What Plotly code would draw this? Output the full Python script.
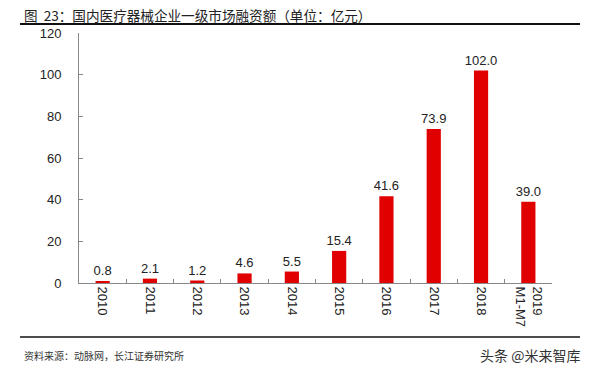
import plotly.graph_objects as go

categories = ["2010", "2011", "2012", "2013", "2014", "2015", "2016", "2017", "2018", "2019<br>M1-M7"]
values = [0.8, 2.1, 1.2, 4.6, 5.5, 15.4, 41.6, 73.9, 102.0, 39.0]
y_ticks = [0, 20, 40, 60, 80, 100, 120]

font_lat = "Liberation Sans, Arial, Noto Sans CJK SC, sans-serif"
font_cjk = "Noto Sans CJK SC, sans-serif"

fig = go.Figure()
fig.add_trace(go.Bar(
    x=categories, y=values,
    marker=dict(color="#E00000", line=dict(width=0)),
    width=0.3,
    text=[f"{v:.1f}" for v in values],
    textposition="outside",
    constraintext="none",
    textfont=dict(family=font_lat, size=13, color="#222222"),
    cliponaxis=False,
))

fig.update_layout(
    width=600, height=375,
    margin=dict(l=79, r=48, t=33, b=92),
    paper_bgcolor="white", plot_bgcolor="white",
    showlegend=False,
    font=dict(family=font_lat, color="#222222"),
    uniformtext=dict(minsize=13, mode="show"),
    xaxis=dict(
        type="category",
        tickangle=90,
        tickson="boundaries",
        ticks="inside", ticklen=4, tickcolor="#888888",
        showline=True, linecolor="#888888", linewidth=1,
        showgrid=False,
        tickfont=dict(family=font_lat, size=13, color="#222222"),
    ),
    yaxis=dict(
        range=[0, 120],
        tickvals=y_ticks,
        ticks="inside", ticklen=4, tickcolor="#888888",
        showline=True, linecolor="#888888", linewidth=1,
        showgrid=False, zeroline=False,
        ticklabelstandoff=14,
        tickfont=dict(family=font_lat, size=13, color="#222222"),
    ),
    shapes=[
        dict(type="line", xref="paper", yref="paper",
             x0=-59/473, x1=501/473, y0=(283-24)/250, y1=(283-24)/250,
             line=dict(color="#111111", width=2)),
        dict(type="line", xref="paper", yref="paper",
             x0=-59/473, x1=501/473, y0=(283-337)/250, y1=(283-337)/250,
             line=dict(color="#111111", width=1.5)),
    ],
    annotations=[
        dict(text="图  23：国内医疗器械企业一级市场融资额（单位：亿元）",
             xref="paper", yref="paper", x=-57/473, y=(283-15)/250,
             xanchor="left", yanchor="middle", showarrow=False,
             font=dict(family=font_cjk, size=13.6, color="#222222")),
        dict(text="资料来源：动脉网，长江证券研究所",
             xref="paper", yref="paper", x=-57/473, y=(283-355)/250,
             xanchor="left", yanchor="middle", showarrow=False,
             font=dict(family=font_cjk, size=10, color="#333333")),
        dict(text="头条 @米来智库",
             xref="paper", yref="paper", x=(582-79)/473, y=(283-355)/250,
             xanchor="right", yanchor="middle", showarrow=False,
             font=dict(family=font_cjk, size=14, color="#333333")),
    ],
)

fig.write_html("out.html", config={"displayModeBar": False},
               post_script="document.body.style.margin='0';")
